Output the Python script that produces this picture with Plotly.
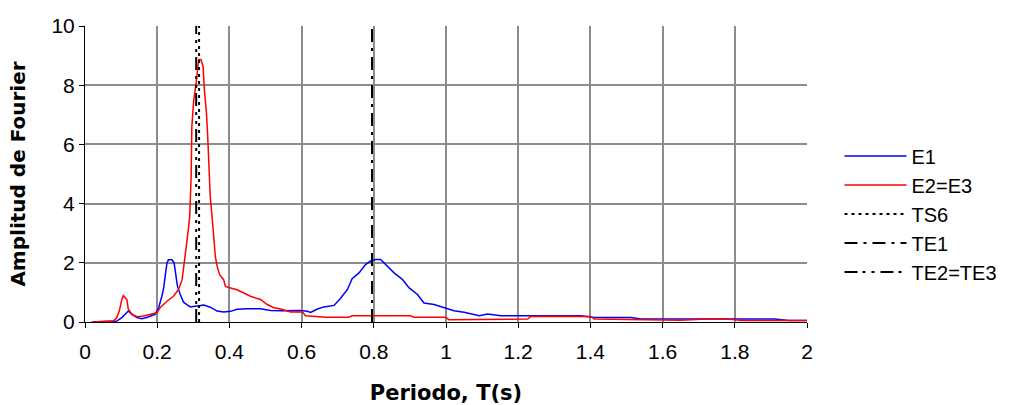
import plotly.graph_objects as go

# Fourier amplitude spectra vs. period
periodo_e1 = [0.02, 0.06, 0.088, 0.102, 0.111, 0.120, 0.130, 0.144, 0.157, 0.171,
              0.194, 0.204, 0.213, 0.218, 0.222, 0.227, 0.231, 0.241, 0.247, 0.252,
              0.256, 0.264, 0.273, 0.282, 0.292, 0.310, 0.329, 0.347, 0.366, 0.384,
              0.403, 0.421, 0.449, 0.486, 0.514, 0.542, 0.569, 0.597, 0.616, 0.625,
              0.644, 0.662, 0.690, 0.708, 0.727, 0.740, 0.759, 0.777, 0.791, 0.805,
              0.819, 0.833, 0.856, 0.879, 0.898, 0.921, 0.939, 0.967, 0.995, 1.022,
              1.050, 1.092, 1.115, 1.152, 1.374, 1.411, 1.512, 1.540, 1.910, 1.950, 2.0]
amp_e1 = [0.0, 0.03, 0.03, 0.15, 0.26, 0.37, 0.26, 0.15, 0.11, 0.15,
          0.26, 0.48, 0.87, 1.15, 1.54, 1.99, 2.10, 2.10, 1.99, 1.54,
          1.21, 0.93, 0.67, 0.59, 0.51, 0.54, 0.57, 0.50, 0.37, 0.34,
          0.36, 0.43, 0.45, 0.45, 0.39, 0.38, 0.39, 0.39, 0.36, 0.32,
          0.44, 0.51, 0.56, 0.80, 1.10, 1.46, 1.66, 1.94, 2.06, 2.11,
          2.11, 1.94, 1.66, 1.44, 1.15, 0.93, 0.64, 0.59, 0.47, 0.38,
          0.33, 0.21, 0.27, 0.21, 0.21, 0.15, 0.15, 0.10, 0.10, 0.05, 0.05]

periodo_e2 = [0.018, 0.056, 0.079, 0.088, 0.095, 0.102, 0.106, 0.116, 0.120, 0.130,
              0.144, 0.162, 0.181, 0.199, 0.208, 0.227, 0.245, 0.259, 0.269, 0.278,
              0.284, 0.290, 0.294, 0.296, 0.301, 0.308, 0.315, 0.321, 0.327, 0.331,
              0.336, 0.340, 0.343, 0.347, 0.352, 0.356, 0.361, 0.366, 0.373, 0.384,
              0.389, 0.403, 0.421, 0.440, 0.458, 0.486, 0.505, 0.523, 0.542, 0.570,
              0.602, 0.611, 0.667, 0.731, 0.740, 0.902, 0.911, 0.999, 1.008, 1.226,
              1.235, 1.401, 1.411, 1.650, 1.720, 1.780, 1.820, 2.0]
amp_e2 = [0.0, 0.03, 0.03, 0.15, 0.37, 0.76, 0.89, 0.76, 0.43, 0.26,
          0.18, 0.20, 0.26, 0.31, 0.48, 0.70, 0.87, 1.10, 1.43, 2.22,
          2.89, 3.56, 4.90, 6.60, 7.47, 8.09, 8.87, 8.87, 8.64, 7.80,
          7.14, 6.24, 5.23, 4.22, 3.56, 2.89, 2.22, 1.88, 1.60, 1.43,
          1.20, 1.15, 1.09, 0.98, 0.87, 0.76, 0.59, 0.48, 0.44, 0.34,
          0.34, 0.21, 0.16, 0.16, 0.21, 0.21, 0.16, 0.16, 0.08, 0.10,
          0.19, 0.19, 0.10, 0.06, 0.10, 0.10, 0.05, 0.05]

# Characteristic periods (vertical reference lines)
t_ts6 = 0.316
t_te1 = 0.795
t_te23 = 0.308
y_span = [0, 10]

fig = go.Figure()
fig.add_trace(go.Scatter(x=periodo_e1, y=amp_e1, mode="lines", name="E1",
                         line=dict(color="#0000ff", width=1.5)))
fig.add_trace(go.Scatter(x=periodo_e2, y=amp_e2, mode="lines", name="E2=E3",
                         line=dict(color="#ff0000", width=1.5)))
fig.add_trace(go.Scatter(x=[t_ts6, t_ts6], y=y_span, mode="lines", name="TS6",
                         line=dict(color="black", width=2, dash="3px,4px")))
fig.add_trace(go.Scatter(x=[t_te1, t_te1], y=y_span, mode="lines", name="TE1",
                         line=dict(color="black", width=2, dash="13px,6px,3px,6px")))
fig.add_trace(go.Scatter(x=[t_te23, t_te23], y=y_span, mode="lines", name="TE2=TE3",
                         line=dict(color="black", width=2,
                                   dash="13px,5px,3px,6px,3px,6px")))

font = "Liberation Sans, Arial, sans-serif"
axis_common = dict(showgrid=True, gridcolor="#8c8c8c", gridwidth=2,
                   zeroline=False, showline=True, linecolor="black", linewidth=1,
                   ticks="outside", ticklen=5, tickcolor="black", automargin=False,
                   tickfont=dict(family=font, size=21, color="black"))

fig.update_xaxes(range=[0, 2], dtick=0.2, tick0=0, ticklabelstandoff=6,
                 title=dict(text="<b>Periodo, T(s)</b>",
                            font=dict(family="DejaVu Sans, sans-serif", size=21,
                                      color="black"),
                            standoff=24),
                 **axis_common)
fig.update_yaxes(range=[0, 10], dtick=2, tick0=0, ticklabelstandoff=0,
                 title=dict(text="<b>Amplitud de Fourier</b>",
                            font=dict(family="DejaVu Sans, sans-serif", size=20,
                                      color="black"),
                            standoff=20),
                 **axis_common)

fig.update_layout(
    width=1014, height=405,
    margin=dict(l=85, r=207, t=26, b=83),
    paper_bgcolor="white", plot_bgcolor="white",
    font=dict(family=font, color="black"),
    legend=dict(x=1.045, y=0.365, xanchor="left", yanchor="middle",
                font=dict(family=font, size=20), itemwidth=62,
                bgcolor="rgba(0,0,0,0)", tracegroupgap=0),
)

fig.write_html("out.html")
